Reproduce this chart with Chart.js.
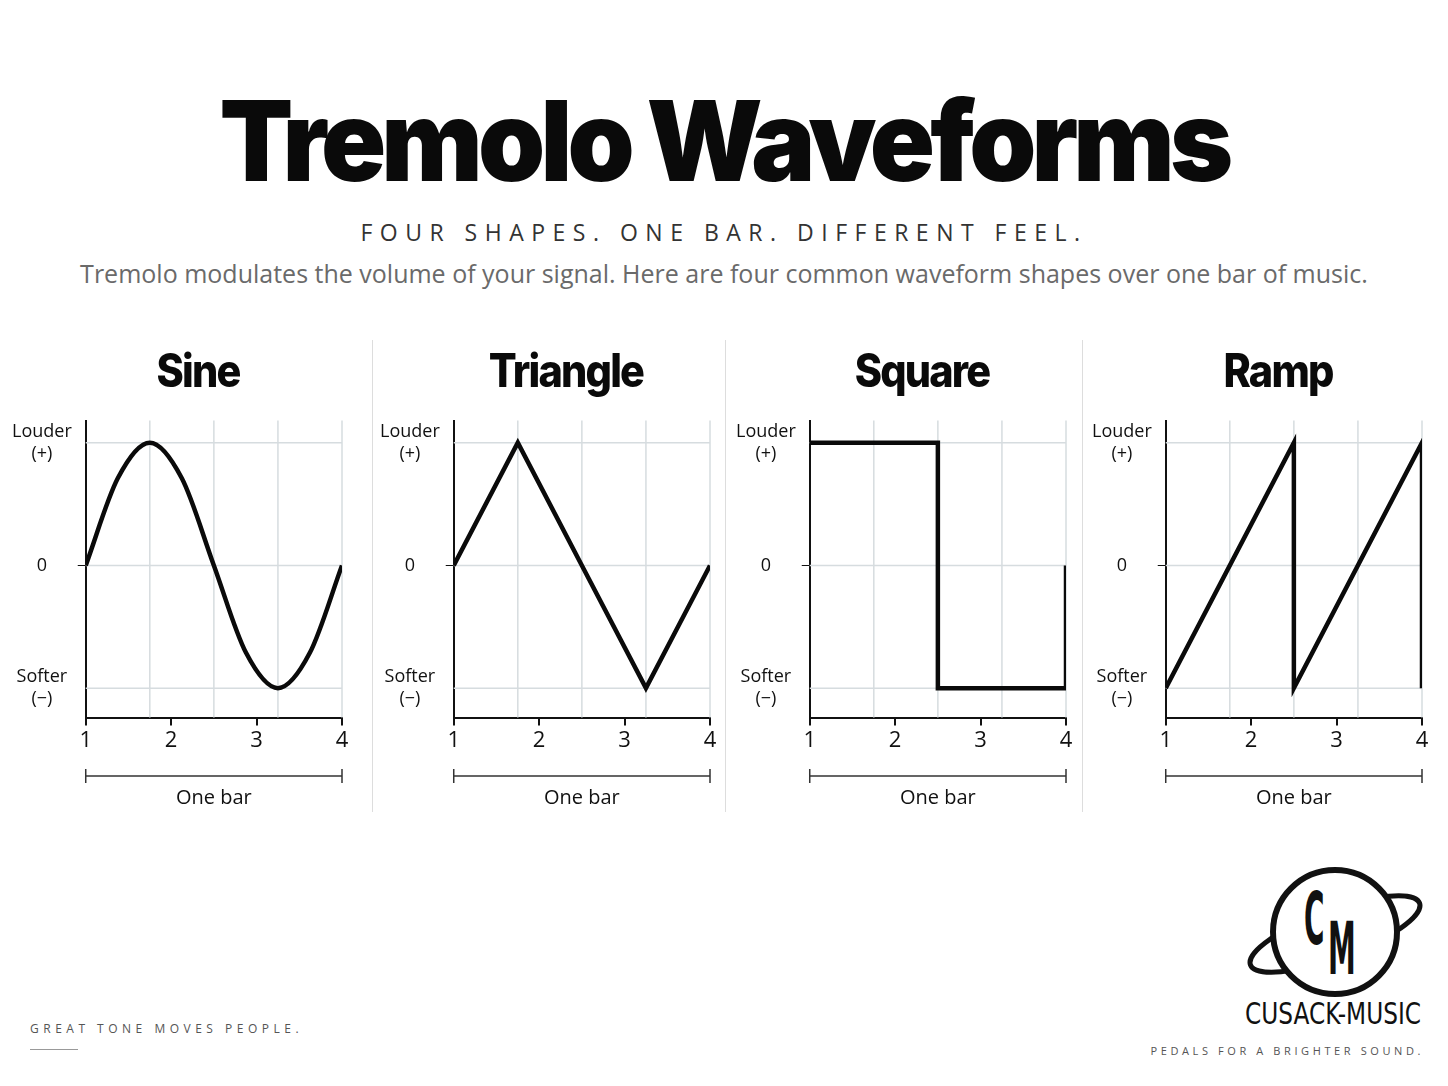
<!DOCTYPE html>
<html><head><meta charset="utf-8">
<script src="https://cdn.jsdelivr.net/npm/chart.js@4.4.1/dist/chart.umd.min.js"></script>
<style>
body{margin:0;background:#fff;width:1448px;height:1086px;position:relative;overflow:hidden;font-family:"Open Sans",sans-serif}
.abs{position:absolute}
h1{position:absolute;left:0;width:1448px;top:72px;margin:0;text-align:center;font:900 112px Inter;letter-spacing:-5px;color:#0a0a0a;transform:scaleX(0.96)}
.sub{top:216px;width:1448px;text-align:center;font:400 23px "Open Sans";letter-spacing:7.5px;color:#333}
.desc{top:256px;width:1448px;text-align:center;font:400 25px "Open Sans";color:#6a6a6a}
.ptitle{top:342px;width:356px;text-align:center;font:800 46px Inter;letter-spacing:-2px;color:#0a0a0a;transform:scaleX(0.9)}
.sep{top:340px;width:1px;height:472px;background:#ddd}
.panel{top:393px;width:364px;height:433px}
</style></head><body>
<h1>Tremolo Waveforms</h1>
<div class="abs sub">FOUR SHAPES. ONE BAR. DIFFERENT FEEL.</div>
<div class="abs desc">Tremolo modulates the volume of your signal. Here are four common waveform shapes over one bar of music.</div>
<div class="abs sep" style="left:372px"></div>
<div class="abs sep" style="left:725px"></div>
<div class="abs sep" style="left:1082px"></div>
<div id="wrap"></div>
<div class="abs" style="left:30px;top:1020px;font:400 12px 'Open Sans';letter-spacing:4.5px;color:#555">GREAT TONE MOVES PEOPLE.</div>
<div class="abs" style="left:30px;top:1049px;width:48px;height:1px;background:#999"></div>
<svg class="abs" style="left:1240px;top:862px" width="200" height="170">
 <ellipse cx="95" cy="72" rx="90" ry="24" transform="rotate(-20 95 72)" fill="none" stroke="#111" stroke-width="5"/>
 <circle cx="95" cy="70" r="62" fill="#fff" stroke="#111" stroke-width="6"/>
 <text x="0" y="0" font-family="DejaVu Sans Condensed" font-weight="bold" font-size="50" fill="#111" transform="translate(64 82) scale(0.62 1.45)">C</text>
 <text x="0" y="0" font-family="DejaVu Sans Condensed" font-weight="bold" font-size="50" fill="#111" transform="translate(88 112) scale(0.62 1.45)">M</text>
 <text x="5" y="162" font-family="DejaVu Sans Condensed" font-size="30" textLength="176" lengthAdjust="spacingAndGlyphs" fill="#111">CUSACK-MUSIC</text>
</svg>
<div class="abs" style="right:24px;top:1043px;white-space:nowrap;font:400 11px 'Open Sans';letter-spacing:3.6px;color:#555">PEDALS FOR A BRIGHTER SOUND.</div>
<script>
const titles = ['Sine', 'Triangle', 'Square', 'Ramp'];
const sineX = [1, 1.375, 1.75, 2.125, 2.5, 2.875, 3.25, 3.625, 4];
const sineY = [0, 0.71, 1, 0.71, 0, -0.71, -1, -0.71, 0];
const triX = [1, 1.75, 2.5, 3.25, 4];
const triY = [0, 1, 0, -1, 0];
const sqX = [1, 2.5, 2.5, 4, 4];
const sqY = [1, 1, -1, -1, 0];
const rampX = [1, 2.5, 2.5, 4, 4];
const rampY = [-1, 1, -1, 1, -1];
const xTicks = [1, 2, 3, 4];
const gridX = [1.75, 2.5, 3.25, 4];
const yTicks = [-1, 0, 1];
const yLabels = {'1': ['Louder', '(+)'], '0': '0', '-1': ['Softer', '(−)']};
const series = [[sineX, sineY, true], [triX, triY, false], [sqX, sqY, false], [rampX, rampY, false]];
const lefts = [-4, 364, 720, 1076];

const gridPlugin = {
  id: 'grid',
  beforeDatasetsDraw(chart) {
    const {ctx, chartArea: a, scales: {x, y}} = chart;
    ctx.save();
    ctx.strokeStyle = '#d6dcdf';
    ctx.lineWidth = 1.5;
    gridX.forEach(v => { const px = x.getPixelForValue(v); ctx.beginPath(); ctx.moveTo(px, a.top); ctx.lineTo(px, a.bottom); ctx.stroke(); });
    yTicks.forEach(v => { const py = y.getPixelForValue(v); ctx.beginPath(); ctx.moveTo(a.left, py); ctx.lineTo(x.getPixelForValue(4), py); ctx.stroke(); });
    ctx.restore();
  },
  afterDraw(chart) {
    const {ctx, scales: {x}} = chart;
    const x1 = x.getPixelForValue(1), x4 = x.getPixelForValue(4), by = x.bottom + 20;
    ctx.save();
    ctx.strokeStyle = '#333';
    ctx.lineWidth = 1.5;
    ctx.beginPath();
    ctx.moveTo(x1, by); ctx.lineTo(x4, by);
    ctx.moveTo(x1, by - 7); ctx.lineTo(x1, by + 7);
    ctx.moveTo(x4, by - 7); ctx.lineTo(x4, by + 7);
    ctx.stroke();
    ctx.fillStyle = '#111';
    ctx.font = '20px "Open Sans"';
    ctx.textAlign = 'center';
    ctx.fillText('One bar', (x1 + x4) / 2, by + 28);
    ctx.restore();
  }
};

titles.forEach((t, i) => {
  const tt = document.createElement('div');
  tt.className = 'abs ptitle'; tt.style.left = (lefts[i] + 24) + 'px'; tt.textContent = t;
  document.body.appendChild(tt);
  const d = document.createElement('div');
  d.className = 'abs panel'; d.style.left = lefts[i] + 'px';
  const c = document.createElement('canvas'); d.appendChild(c);
  document.getElementById('wrap').appendChild(d);
  const [xs, ys, smooth] = series[i];
  new Chart(c, {
    type: 'line',
    data: {datasets: [{data: xs.map((v, k) => ({x: v, y: ys[k]})), borderColor: '#0a0a0a', borderWidth: 4.5,
      pointRadius: 0, tension: smooth ? 0.4 : 0, cubicInterpolationMode: smooth ? 'monotone' : 'default', borderJoinStyle: 'miter'}]},
    options: {
      responsive: true, maintainAspectRatio: false, animation: false,
      layout: {padding: {left: 10, right: 18, top: 4, bottom: 70}},
      plugins: {legend: {display: false}, tooltip: {enabled: false}},
      scales: {
        x: {type: 'linear', min: 1, max: 4,
          afterBuildTicks: s => { s.ticks = xTicks.map(v => ({value: v})); },
          grid: {display: true, drawOnChartArea: false, tickLength: 8, color: '#111', lineWidth: 2},
          border: {color: '#111', width: 2},
          ticks: {color: '#111', font: {size: 22, family: 'Open Sans'}, padding: 2}},
        y: {min: -1.24, max: 1.18,
          afterBuildTicks: s => { s.ticks = yTicks.map(v => ({value: v})); },
          grid: {display: true, drawOnChartArea: false, tickLength: 8, color: ctx => ctx.tick && ctx.tick.value === 0 ? '#111' : 'rgba(0,0,0,0)'},
          border: {color: '#111', width: 2},
          ticks: {color: '#111', font: {size: 18, family: 'Open Sans'}, padding: 6, crossAlign: 'center',
            callback: v => yLabels[String(v)]}}
      }
    },
    plugins: [gridPlugin]
  });
});
</script>
</body></html>
